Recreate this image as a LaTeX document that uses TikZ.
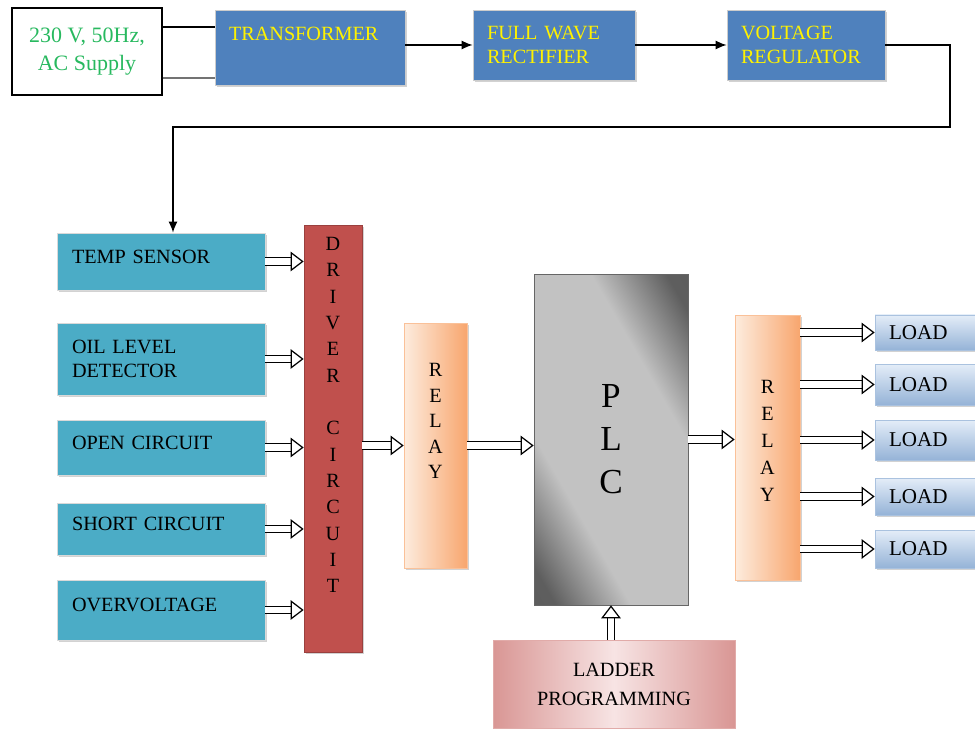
\documentclass[tikz,border=0pt]{standalone}
\usepackage{fontspec}
\setmainfont{Liberation Serif}
\usetikzlibrary{arrows.meta,positioning,calc,shadows}

\definecolor{blockblue}{RGB}{79,129,189}
\definecolor{sensorteal}{RGB}{75,172,198}
\definecolor{driverred}{RGB}{192,80,77}
\definecolor{supplygreen}{RGB}{40,185,95}
\definecolor{relaylight}{RGB}{253,236,222}
\definecolor{relaydark}{RGB}{248,166,110}
\definecolor{ladderlight}{RGB}{247,228,228}
\definecolor{ladderdark}{RGB}{217,150,148}
\definecolor{loadlight}{RGB}{228,237,248}
\definecolor{loaddark}{RGB}{149,179,215}

\pgfdeclarehorizontalshading{plcmetal}{100bp}{color(0bp)=(black!66); color(20bp)=(black!63); color(35bp)=(black!24); color(65bp)=(black!24); color(80bp)=(black!63); color(100bp)=(black!66)}

\begin{document}
\begin{tikzpicture}[
    x=0.02cm, y=-0.02cm,
    font=\fontsize{11.5}{14}\selectfont,
    boxshadow/.style={drop shadow={shadow xshift=1.2pt, shadow yshift=-1.2pt, fill=black!35}},
    supply/.style={draw=black, line width=0.8pt, fill=white, align=center, text=supplygreen, font=\fontsize{12.5}{15.5}\selectfont, minimum width=3cm, minimum height=1.74cm},
    power/.style={boxshadow, draw=gray!40, fill=blockblue, text=yellow, align=left, inner xsep=0.28cm, minimum height=1.4cm},
    sensor/.style={boxshadow, draw=gray!30, fill=sensorteal, text=black, align=left, text width=3.56cm, inner xsep=0.3cm, minimum width=4.16cm},
    driver/.style={boxshadow, draw=driverred!80!black, fill=driverred, minimum width=1.16cm, minimum height=8.54cm},
    letters/.style={align=center, font=\fontsize{11.5}{15}\selectfont},
    relay/.style={boxshadow, draw=relaydark!70, left color=relaylight, right color=relaydark, minimum width=1.26cm},
    plc/.style={draw=black!60, shade, shading=plcmetal, shading angle=30, minimum width=3.08cm, minimum height=6.62cm, align=center, font=\fontsize{20}{24.5}\selectfont},
    ladder/.style={draw=ladderdark!80, left color=ladderdark, right color=ladderdark, middle color=ladderlight, minimum width=4.84cm, minimum height=1.76cm, align=center, font=\fontsize{11.5}{16.5}\selectfont},
    load/.style={boxshadow, draw=loaddark!80, top color=loadlight, bottom color=loaddark, minimum width=2.3cm, text width=1.74cm, align=left, inner xsep=0.28cm, font=\fontsize{12}{14}\selectfont},
    wire/.style={line width=0.8pt},
    feed/.style={wire, -{Latex[length=2.2mm, width=1.8mm]}},
    hollow/.style={double, double distance=3.6pt, line width=0.7pt, -{Triangle[open, fill=white, length=2.6mm, width=3.9mm, line width=0.7pt]}}
]
\useasboundingbox (0,0) rectangle (975,729);

\node[supply] (ac) at (87,51.5) {230 V, 50Hz,\\AC Supply};
\node[power, text width=3.24cm, minimum width=3.8cm, minimum height=1.5cm, text depth=0.56cm] (tr) at (310,47.5) {TRANSFORMER};
\node[power, text width=2.68cm, minimum width=3.24cm] (fw) at (554,45) {FULL WAVE\\RECTIFIER};
\node[power, text width=2.6cm, minimum width=3.16cm] (vr) at (806,45) {VOLTAGE\\REGULATOR};

\node[sensor, minimum height=1.14cm, text depth=0.2cm] (ts) at (161,261.5) {TEMP SENSOR};
\node[sensor, minimum height=1.44cm] (ol) at (161,359) {OIL LEVEL\\DETECTOR};
\node[sensor, minimum height=1.1cm, text depth=0.2cm] (oc) at (161,447.5) {OPEN CIRCUIT};
\node[sensor, minimum height=1.04cm, text depth=0.2cm] (sc) at (161,529) {SHORT CIRCUIT};
\node[sensor, minimum height=1.2cm, text depth=0.2cm] (ov) at (161,610) {OVERVOLTAGE};

\node[driver, label={[letters, yshift=0.47cm]center:{D\\R\\I\\V\\E\\R\\[15pt]C\\I\\R\\C\\U\\I\\T}}] (dr) at (333,438.5) {};
\node[relay, minimum height=4.9cm, label={[letters, yshift=0.49cm, font=\fontsize{11.5}{14.5}\selectfont]center:{R\\E\\L\\A\\Y}}] (r1) at (435.5,445.5) {};
\node[plc] (plc) at (611,439.5) {P\\L\\C};
\node[relay, minimum width=1.3cm, minimum height=5.3cm, label={[letters, yshift=0.13cm, font=\fontsize{11.5}{15.4}\selectfont]center:{R\\E\\L\\A\\Y}}] (r2) at (767.5,447.5) {};
\node[ladder] (lp) at (614,684) {LADDER\\PROGRAMMING};

\foreach \n/\y/\h in {1/332.5/0.7, 2/384.5/0.82, 3/440/0.8, 4/496.5/0.74, 5/549/0.76}
  \node[load, minimum height=\h cm] (l\n) at (932.5,\y) {LOAD};

\draw[wire] (ac.east |- 0,27) -- (tr.west |- 0,27);
\draw[wire, black!55] (ac.east |- 0,78) -- (tr.west |- 0,78);
\draw[feed] (tr.east |- fw) -- (fw.west);
\draw[feed] (fw.east) -- (vr.west);
\coordinate (turn) at (950,127);
\draw[feed] (vr.east) -| (turn) -| ([xshift=0.24cm]ts.north);

\foreach \s in {ts,ol,oc,sc,ov}
  \draw[hollow] (\s.east) -- (\s.east -| dr.west);
\draw[hollow] (dr.east |- r1) -- (r1.west);
\draw[hollow] (r1.east) -- (r1.east -| plc.west);
\draw[hollow] (plc.east) -- (plc.east -| r2.west);
\draw[hollow] (plc.south |- lp.north) -- (plc.south);
\foreach \n in {1,...,5}
  \draw[hollow] (r2.east |- l\n) -- (l\n.west);
\end{tikzpicture}
\end{document}
